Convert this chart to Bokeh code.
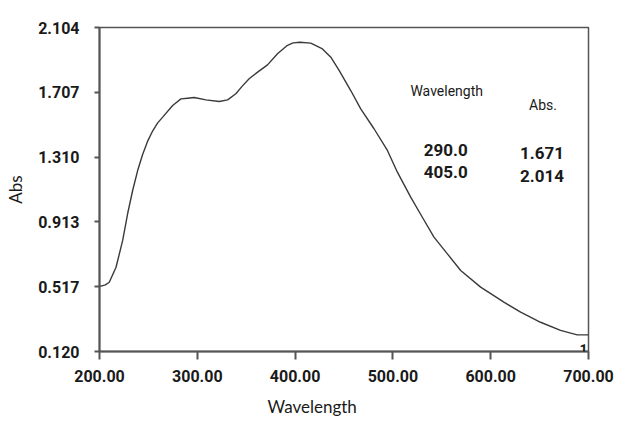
import numpy as np
from bokeh.plotting import figure
from bokeh.models import Range1d, FixedTicker, PrintfTickFormatter, Label, Title
from bokeh.embed import file_html
from bokeh.resources import INLINE

# ---- data ----
wavelength = [200.0, 201.5, 206.0, 210.0, 216.9, 223.7, 228.8, 233.9, 239.0, 244.0, 249.0,
              254.3, 259.5, 264.6, 274.8, 283.3, 290.0, 296.8, 308.8, 322.4, 331.0, 339.4,
              346.0, 353.0, 362.0, 371.8, 382.0, 392.2, 398.0, 405.0, 416.0, 428.0, 436.5,
              445.0, 456.9, 467.1, 480.7, 494.4, 504.6, 518.2, 530.1, 542.0, 555.7, 569.3,
              589.7, 613.5, 630.6, 651.0, 671.4, 688.5, 700.0]
absorbance = [0.520, 0.520, 0.528, 0.544, 0.636, 0.800, 0.965, 1.106, 1.228, 1.325, 1.405,
              1.470, 1.520, 1.555, 1.626, 1.667, 1.671, 1.675, 1.661, 1.651, 1.661, 1.698,
              1.745, 1.790, 1.832, 1.875, 1.943, 1.995, 2.010, 2.014, 2.008, 1.973, 1.922,
              1.841, 1.718, 1.606, 1.484, 1.351, 1.218, 1.065, 0.942, 0.820, 0.718, 0.616,
              0.514, 0.422, 0.361, 0.299, 0.249, 0.222, 0.222]
x_ticks = [200, 300, 400, 500, 600, 700]
y_ticks = [0.120, 0.517, 0.913, 1.310, 1.707, 2.104]
peak_wavelengths = ["290.0", "405.0"]
peak_abs = ["1.671", "2.014"]

TICK_FONT = "Roboto"
AXIS_COL = "#555555"
TXT = "#1a1a1a"

p = figure(width=622, height=427, output_backend="svg", toolbar_location=None,
           x_range=Range1d(200, 700), y_range=Range1d(0.120, 2.104),
           min_border_left=99, min_border_right=34, min_border_top=27, min_border_bottom=76,
           background_fill_color="white", border_fill_color="white")
p.grid.visible = False
p.outline_line_color = AXIS_COL
p.outline_line_width = 1.5

p.line(wavelength, absorbance, line_color="#3a3a3a", line_width=1.4)

xa = p.xaxis[0]
xa.ticker = FixedTicker(ticks=x_ticks)
xa.formatter = PrintfTickFormatter(format="%.2f")
xa.axis_line_color = AXIS_COL
xa.axis_line_width = 2
xa.major_tick_line_color = AXIS_COL
xa.major_tick_line_width = 2
xa.major_tick_out = 8
xa.major_tick_in = 0
xa.minor_tick_line_color = None
xa.major_label_standoff = 10
xa.major_label_text_font = TICK_FONT
xa.major_label_text_font_style = "bold"
xa.major_label_text_font_size = "16px"
xa.major_label_text_color = TXT

ya = p.yaxis[0]
ya.ticker = FixedTicker(ticks=y_ticks)
ya.formatter = PrintfTickFormatter(format="%.3f")
ya.axis_line_color = AXIS_COL
ya.axis_line_width = 2
ya.major_tick_line_color = AXIS_COL
ya.major_tick_line_width = 2
ya.major_tick_out = 5
ya.major_tick_in = 0
ya.minor_tick_line_color = None
ya.major_label_standoff = 15
ya.major_label_text_font = TICK_FONT
ya.major_label_text_font_style = "bold"
ya.major_label_text_font_size = "16px"
ya.major_label_text_color = TXT
ya.axis_label = "Abs"
ya.axis_label_standoff = 9
ya.axis_label_text_font = "Lato"
ya.axis_label_text_font_style = "normal"
ya.axis_label_text_font_size = "17px"
ya.axis_label_text_color = TXT

p.add_layout(Title(text="Wavelength", align="left", offset=168, standoff=19,
                   text_font="Lato", text_font_style="normal", text_font_size="17px",
                   text_color=TXT), "below")

# peak table
p.add_layout(Label(x=555.0, y=1.716, text="Wavelength", text_align="center",
                   text_baseline="alphabetic", text_font=TICK_FONT, text_font_size="14px",
                   text_color=TXT))
p.add_layout(Label(x=653.5, y=1.627, text="Abs.", text_align="center",
                   text_baseline="alphabetic", text_font=TICK_FONT, text_font_size="14px",
                   text_color=TXT))
row_y_wl = [1.351, 1.222]
row_y_abs = [1.338, 1.197]
for i in range(len(peak_wavelengths)):
    p.add_layout(Label(x=554.0, y=row_y_wl[i], text=peak_wavelengths[i], text_align="center",
                       text_baseline="alphabetic", text_font=TICK_FONT, text_font_style="bold",
                       text_font_size="17px", text_color=TXT))
    p.add_layout(Label(x=652.5, y=row_y_abs[i], text=peak_abs[i], text_align="center",
                       text_baseline="alphabetic", text_font=TICK_FONT, text_font_style="bold",
                       text_font_size="17px", text_color=TXT))

# trace number at end of curve
p.add_layout(Label(x=700, y=0.134, x_offset=-1, text="1", text_align="right",
                   text_baseline="alphabetic", text_font=TICK_FONT, text_font_style="bold",
                   text_font_size="14px", text_color=TXT))

open("out.html", "w").write(file_html(p, INLINE))
